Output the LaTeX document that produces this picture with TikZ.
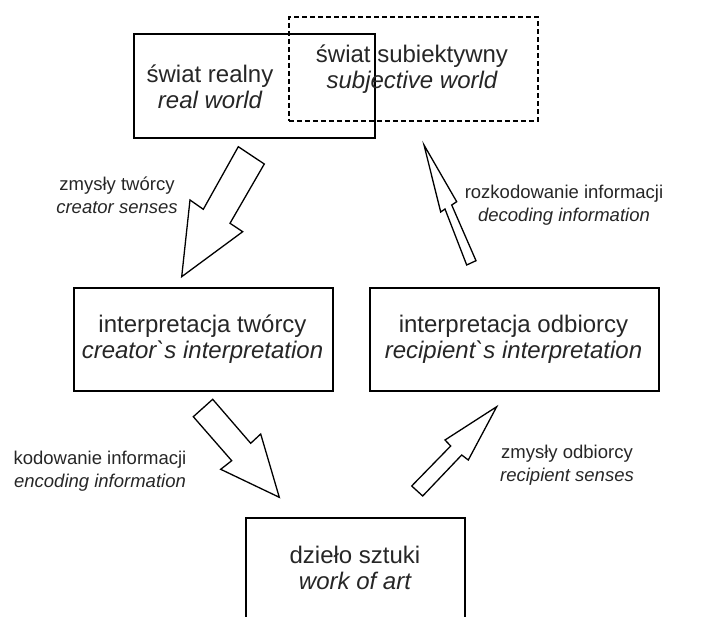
\documentclass[tikz,border=0pt]{standalone}
\usepackage{fontspec}
\setmainfont{Liberation Sans}[Ligatures=TeXOff]
\begin{document}
\begin{tikzpicture}[x=1pt,y=-1pt,
  box/.style={draw,line width=1.8pt,inner sep=0pt,anchor=north west},
  dbox/.style={draw,line width=1.8pt,dash pattern=on 5pt off 3pt,inner sep=0pt,anchor=north west},
  boxtext/.style={align=center,font=\fontsize{24}{24}\selectfont,inner sep=0pt,text=black!85},
  lbl/.style={align=center,font=\fontsize{18.5}{23}\selectfont,inner sep=0pt,text=black!85},
  blockarrow/.style={draw,line width=1.3pt,fill=white,line join=miter}]
\useasboundingbox (0,0) rectangle (702,617);
\clip (0,0) rectangle (702,617);
% boxes
\node[box,minimum width=241pt,minimum height=104pt] (real) at (133,33) {};
\node[dbox,minimum width=249pt,minimum height=104pt] (subj) at (288,16) {};
\node[box,minimum width=259pt,minimum height=103pt] (creat) at (73,287) {};
\node[box,minimum width=289pt,minimum height=103pt] (recip) at (369,287) {};
\node[box,minimum width=219pt,minimum height=140pt] (art) at (245,517) {};
% box texts
\node[boxtext] (treal) at (210,90.2) {\strut świat realny\\\strut\itshape real world};
\node[boxtext] (tsubj) at (412,70.2) {\strut świat subiektywny\\\strut\itshape subjective world};
\node[boxtext] (tcreat) at (202.5,340.2) {\strut interpretacja twórcy\\\strut\itshape creator\char96 s interpretation};
\node[boxtext] (trecip) at (513.5,340.2) {\strut interpretacja odbiorcy\\\strut\itshape recipient\char96 s interpretation};
\node[boxtext] (tart) at (355,571.2) {\strut dzieło sztuki\\\strut\itshape work of art};
% labels
\node[lbl] (l1) at (117,197.4) {\strut zmysły twórcy\\\strut\itshape creator senses};
\node[lbl] (l2) at (564,205.9) {\strut rozkodowanie informacji\\\strut\itshape decoding information};
\node[lbl] (l3) at (100,471.9) {\strut kodowanie informacji\\\strut\itshape encoding information};
\node[lbl] (l4) at (567,465.9) {\strut zmysły odbiorcy\\\strut\itshape recipient senses};
% block arrows
\draw[blockarrow] (238.3,146.7) -- (264.3,164) -- (230,223.3) -- (242.7,231.7) -- (181.7,276.7) -- (190,200) -- (203.3,209.3) -- cycle;
\draw[blockarrow] (424,145) -- (456.7,201.7) -- (451.7,205) -- (476,260.7) -- (466.7,265) -- (445,209) -- (440.7,212) -- cycle;
\draw[blockarrow] (212.7,399.3) -- (250.7,443.3) -- (260.7,434) -- (279.3,497.3) -- (220.7,469.3) -- (231.7,460.7) -- (193.3,416.7) -- cycle;
\draw[blockarrow] (411.7,486) -- (450.7,446) -- (445,440) -- (496.7,406.7) -- (468.3,460) -- (461.7,455) -- (422.7,496) -- cycle;
\end{tikzpicture}
\end{document}
